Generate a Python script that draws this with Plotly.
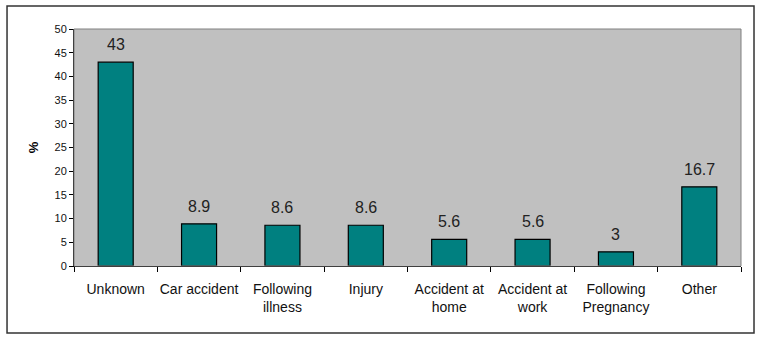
import plotly.graph_objects as go

categories = ["Unknown", "Car accident", "Following<br>illness", "Injury",
              "Accident at<br>home", "Accident at<br>work",
              "Following<br>Pregnancy", "Other"]
values = [43, 8.9, 8.6, 8.6, 5.6, 5.6, 3, 16.7]
value_labels = ["43", "8.9", "8.6", "8.6", "5.6", "5.6", "3", "16.7"]
y_ticks = [0, 5, 10, 15, 20, 25, 30, 35, 40, 45, 50]

FONT = "Liberation Sans, Arial, sans-serif"

fig = go.Figure(go.Bar(
    x=categories,
    y=values,
    marker=dict(color="#008080", line=dict(color="#000000", width=1.2)),
))

# value labels sitting above each bar
for cat, val, lab in zip(categories, values, value_labels):
    fig.add_annotation(
        x=cat, y=val, text=lab, showarrow=False,
        yanchor="bottom", yshift=7,
        font=dict(family=FONT, size=16, color="#222"),
    )

fig.update_layout(
    width=763, height=344,
    margin=dict(l=74, r=22, t=29, b=78),
    paper_bgcolor="white",
    plot_bgcolor="#C0C0C0",
    bargap=0.58,
    showlegend=False,
    font=dict(family=FONT, color="#000"),
    shapes=[
        # plot-area frame
        dict(type="rect", xref="paper", yref="paper", x0=0, x1=1, y0=0, y1=1,
             line=dict(color="#808080", width=1)),
        # chart-area border
        dict(type="rect", xref="paper", yref="paper",
             x0=-0.1004, x1=1.0195, y0=-0.2827, y1=1.097,
             line=dict(color="#333333", width=1.5)),
    ],
)

fig.update_xaxes(
    showgrid=False, automargin=False, tickangle=0,
    showline=True, linecolor="#000", linewidth=1,
    ticks="outside", tickson="boundaries", ticklen=5, tickcolor="#000",
    tickfont=dict(family=FONT, size=14, color="#111"),
    ticklabelstandoff=10,
)
fig.update_yaxes(
    range=[0, 50], tickvals=y_ticks, automargin=False,
    showgrid=False,
    showline=True, linecolor="#000", linewidth=1,
    ticks="outside", ticklen=4, tickcolor="#000",
    tickfont=dict(family=FONT, size=11, color="#111"),
    title=dict(text="<b>%</b>", font=dict(family=FONT, size=13), standoff=12),
)

fig.write_html("out.html")
